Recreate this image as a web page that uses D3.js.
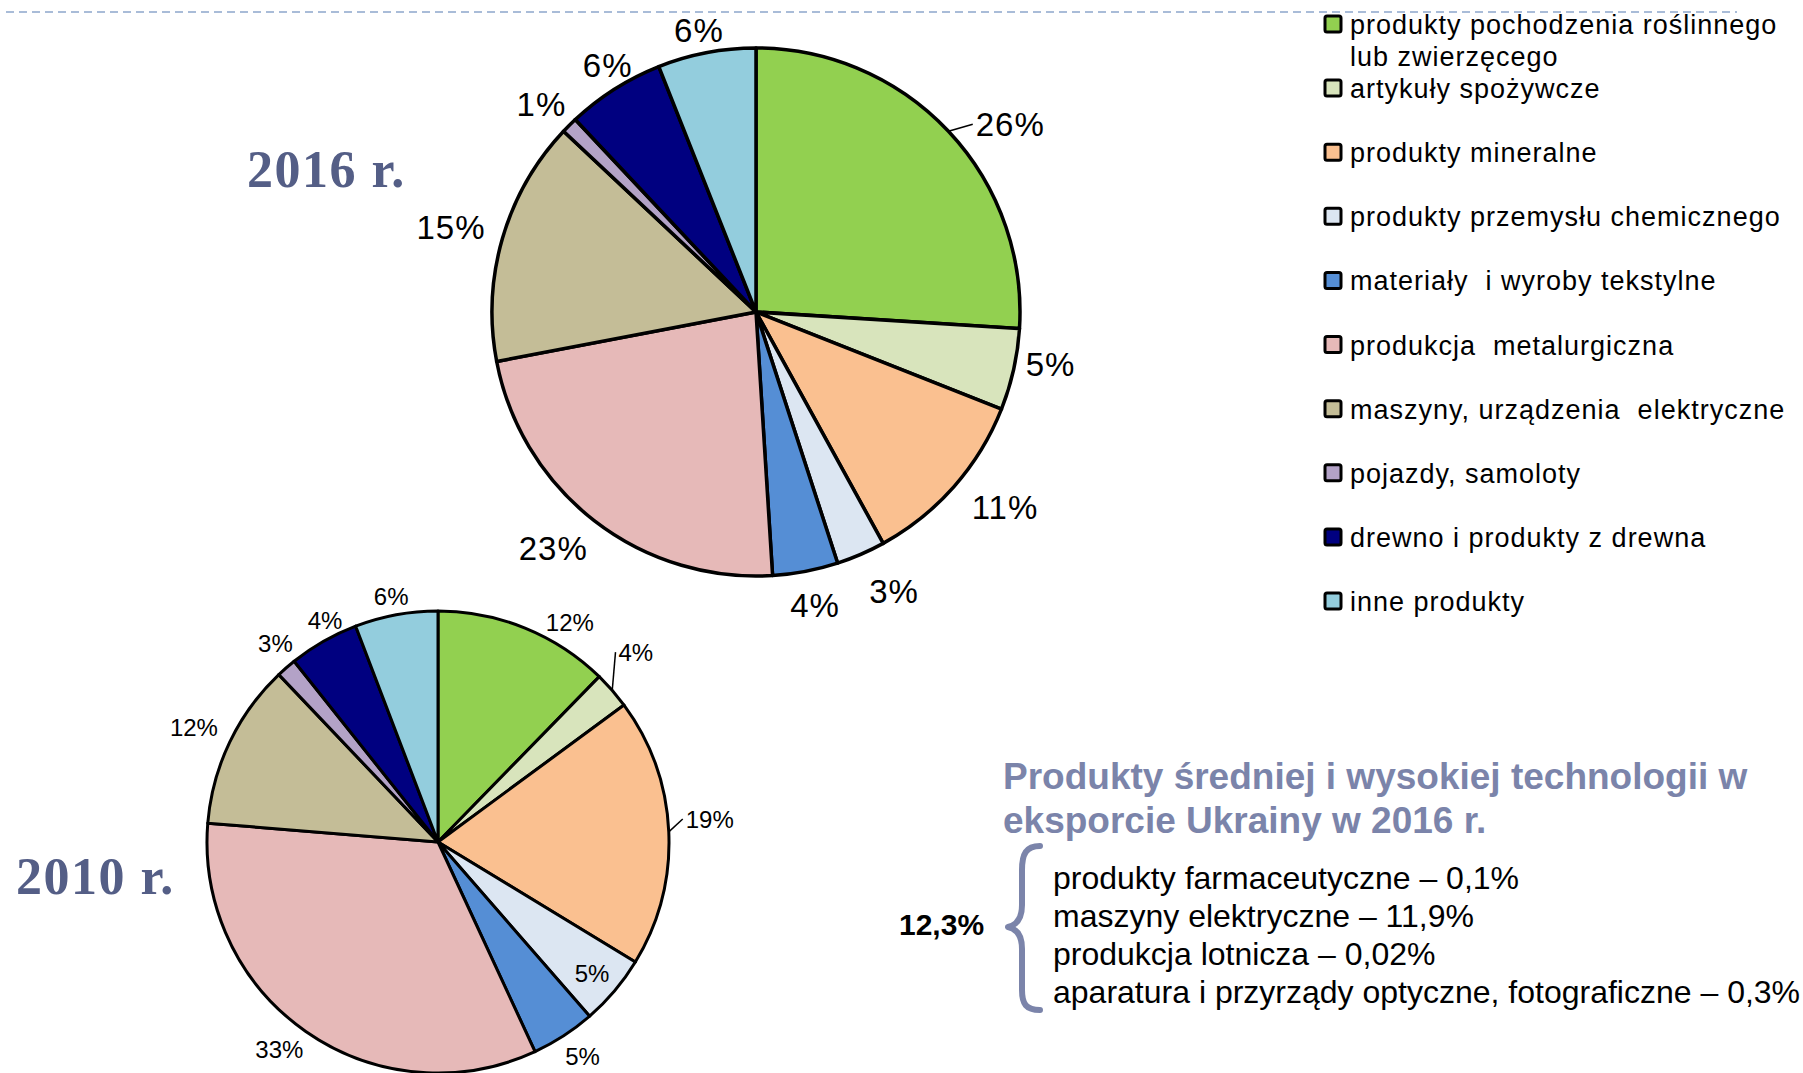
<!DOCTYPE html>
<html>
<head>
<meta charset="utf-8">
<script src="https://cdnjs.cloudflare.com/ajax/libs/d3/7.8.5/d3.min.js"></script>
<style>
  body { margin: 0; background: #fff; }
  svg { display: block; font-family: "Liberation Sans", Arial, sans-serif; }
</style>
</head>
<body>
<svg id="chart" width="1803" height="1073"></svg>
<script>
// categories (legend order = slice order, clockwise from 12 o'clock)
let categories = [
  "produkty pochodzenia roślinnego\nlub zwierzęcego",
  "artykuły spożywcze",
  "produkty mineralne",
  "produkty przemysłu chemicznego",
  "materiały  i wyroby tekstylne",
  "produkcja  metalurgiczna",
  "maszyny, urządzenia  elektryczne",
  "pojazdy, samoloty",
  "drewno i produkty z drewna",
  "inne produkty"
];
let colors = ["#92d050", "#d8e4bc", "#fac090", "#dce6f2", "#558ed5",
              "#e6b9b8", "#c4bd97", "#b3a2c7", "#000080", "#93cddd"];

let values2016 = [26, 5, 11, 3, 4, 23, 15, 1, 6, 6];
let labels2016 = ["26%", "5%", "11%", "3%", "4%", "23%", "15%", "1%", "6%", "6%"];

// slice sizes (its printed labels do not add up to 100)
let values2010 = [12.3, 2.6, 18.8, 4.9, 4.5, 33.2, 11.6, 1.4, 4.9, 5.8];
let labels2010 = ["12%", "4%", "19%", "5%", "5%", "33%", "12%", "3%", "4%", "6%"];

let techTitle = ["Produkty średniej i wysokiej technologii w", "eksporcie Ukrainy w 2016 r."];
let techItems = [
  "produkty farmaceutyczne – 0,1%",
  "maszyny elektryczne – 11,9%",
  "produkcja lotnicza – 0,02%",
  "aparatura i przyrządy optyczne, fotograficzne – 0,3%"
];
let techTotal = "12,3%";

// label placement tweaks (Excel-like "outside end" then small nudge)
let nudge2016 = [[25,12],[-3,-12],[14,2],[17,11],[2,6],[-10,5],[-3,-3],[1,-2],[15,0],[0,5]];
let nudge2010 = [[32,12],[3,-26],[7,-12],[4,5],[4,5],[-7,3],[-5,-7],[7,-10],[15,-5],[0,0]];

let svg = d3.select("#chart");

// dashed rule at the top of the slide
svg.append("line")
  .attr("x1", 6).attr("x2", 1737)
  .attr("y1", 12).attr("y2", 12)
  .attr("stroke", "#a9bcd8")
  .attr("stroke-width", 2)
  .attr("stroke-dasharray", "8 5");

function drawPie(cfg){
  let g = svg.append("g")
    .attr("transform", "translate(" + cfg.cx + "," + cfg.cy + ")");

  let pie = d3.pie().sort(null).value(function(d){ return d; });
  let arcs = pie(cfg.values);
  let arc = d3.arc().innerRadius(0).outerRadius(cfg.r);

  g.selectAll("path")
    .data(arcs)
    .enter()
    .append("path")
      .attr("d", arc)
      .attr("fill", function(d, i){ return colors[i]; })
      .attr("stroke", "#000")
      .attr("stroke-width", cfg.strokeW)
      .attr("stroke-linejoin", "round");

  // labels
  arcs.forEach(function(d, i){
    let a = (d.startAngle + d.endAngle) / 2;
    let s = Math.sin(a), c = -Math.cos(a);
    let t = g.append("text")
      .attr("font-size", cfg.fontSize)
      .attr("letter-spacing", cfg.spacing)
      .attr("text-anchor", "middle")
      .text(cfg.labels[i]);
    let w = t.node().getComputedTextLength();
    let h = cfg.fontSize * 0.72;
    let x, y;
    if(cfg.inside.indexOf(i) >= 0){
      x = cfg.r * 0.85 * s;
      y = cfg.r * 0.85 * c;
    } else {
      let R = cfg.r + cfg.gap;
      x = R * s + s * w / 2;
      y = R * c + c * h / 2;
    }
    x += cfg.nudge[i][0];
    y += cfg.nudge[i][1];
    t.attr("x", x).attr("y", y + h / 2);

    if(cfg.leaders.indexOf(i) >= 0){
      g.append("line")
        .attr("x1", cfg.r * s).attr("y1", cfg.r * c)
        .attr("x2", x - w / 2 - 3).attr("y2", y)
        .attr("stroke", "#000")
        .attr("stroke-width", 1.5);
    }
  });
}

drawPie({cx: 756, cy: 312, r: 264, values: values2016, labels: labels2016,
         fontSize: 33, spacing: 1, strokeW: 3.5, gap: 16,
         nudge: nudge2016, leaders: [0], inside: []});

drawPie({cx: 438, cy: 842, r: 231, values: values2010, labels: labels2010,
         fontSize: 24, spacing: 0, strokeW: 3, gap: 10,
         nudge: nudge2010, leaders: [1, 2], inside: [3]});

// year titles
let yearStyle = function(sel){
  sel.attr("font-family", "'Liberation Serif', 'DejaVu Serif', serif")
    .attr("font-weight", "bold")
    .attr("font-size", 52)
    .attr("letter-spacing", 1.5)
    .attr("fill", "#545e86");
};
svg.append("text").attr("x", 247).attr("y", 187).text("2016 r.").call(yearStyle);
svg.append("text").attr("x", 16).attr("y", 894).text("2010 r.").call(yearStyle);

// legend
let legendY = d3.scaleLinear().domain([0, categories.length - 1]).range([24, 601]);
let legend = svg.append("g").attr("class", "legend");
categories.forEach(function(name, i){
  let y = legendY(i);
  legend.append("rect")
    .attr("x", 1325).attr("y", y - 8)
    .attr("width", 16).attr("height", 16)
    .attr("rx", 2)
    .attr("fill", colors[i])
    .attr("stroke", "#000")
    .attr("stroke-width", 3);
  let t = legend.append("text")
    .attr("x", 1350).attr("y", y + 10)
    .attr("font-size", 27)
    .attr("letter-spacing", 1)
    .style("white-space", "pre");
  name.split("\n").forEach(function(line, j){
    t.append("tspan")
      .attr("x", 1350)
      .attr("dy", j === 0 ? 0 : 32)
      .text(line);
  });
});

// medium / high technology note
let note = svg.append("g").attr("class", "note");
techTitle.forEach(function(line, i){
  note.append("text")
    .attr("x", 1003).attr("y", 789 + i * 44)
    .attr("font-size", 37)
    .attr("font-weight", "bold")
    .attr("fill", "#7b84aa")
    .text(line);
});
techItems.forEach(function(line, i){
  note.append("text")
    .attr("x", 1053).attr("y", 889 + i * 38)
    .attr("font-size", 32)
    .attr("fill", "#000")
    .text(line);
});
note.append("text")
  .attr("x", 899).attr("y", 935)
  .attr("font-size", 30)
  .attr("font-weight", "bold")
  .text(techTotal);

// curly brace
note.append("path")
  .attr("d", "M1040,846 C1026,846 1022,854 1022,870 L1022,905 C1022,918 1017,925 1008,927" +
             " C1017,929 1022,936 1022,949 L1022,990 C1022,1004 1026,1010 1040,1010")
  .attr("fill", "none")
  .attr("stroke", "#7b84aa")
  .attr("stroke-width", 6)
  .attr("stroke-linecap", "round")
  .attr("stroke-linejoin", "round");
</script>
</body>
</html>
